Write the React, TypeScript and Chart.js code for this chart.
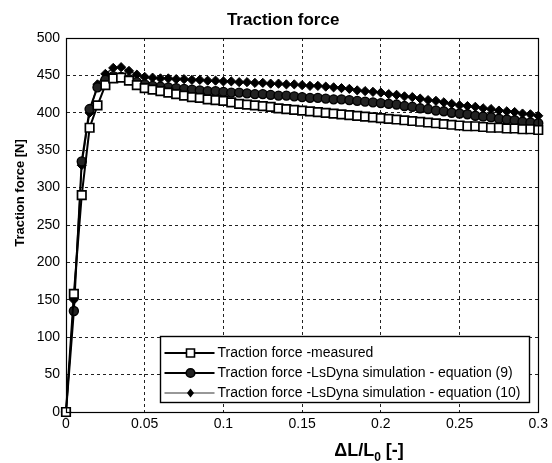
import React, { useEffect, useRef } from 'react';
import { Chart, registerables } from 'chart.js';

Chart.register(...registerables);

const xValues = [
  0, 0.005, 0.01, 0.015, 0.02, 0.025, 0.03, 0.035, 0.04, 0.045, 0.05,
  0.055, 0.06, 0.065, 0.07, 0.075, 0.08, 0.085, 0.09, 0.095, 0.1,
  0.105, 0.11, 0.115, 0.12, 0.125, 0.13, 0.135, 0.14, 0.145, 0.15,
  0.155, 0.16, 0.165, 0.17, 0.175, 0.18, 0.185, 0.19, 0.195, 0.2,
  0.205, 0.21, 0.215, 0.22, 0.225, 0.23, 0.235, 0.24, 0.245, 0.25,
  0.255, 0.26, 0.265, 0.27, 0.275, 0.28, 0.285, 0.29, 0.295, 0.3,
];

const measured = [
  0, 158, 290, 380, 410, 437, 446, 447, 443, 437, 433,
  431, 429, 427, 425, 423, 421, 420, 418, 417, 416,
  414, 412, 411, 410, 409, 408, 406, 405, 404, 403,
  402, 401, 400, 399, 398, 397, 396, 395, 394, 393,
  392, 391, 390, 389, 388, 387, 386, 385, 384, 383,
  382, 382, 381, 380, 380, 379, 379, 378, 378, 377,
];

const eq9 = [
  0, 135, 335, 405, 434, 444, 449, 448, 445, 441, 438,
  436, 435, 434, 433, 432, 431, 430, 429, 429, 428,
  427, 427, 426, 425, 425, 424, 423, 423, 422, 421,
  420, 420, 419, 418, 418, 417, 416, 415, 414, 413,
  412, 411, 409, 408, 406, 405, 403, 402, 400, 399,
  398, 396, 395, 394, 392, 391, 390, 388, 387, 386,
];

const eq10 = [
  0, 150, 330, 400, 438, 452, 460, 461, 456, 451, 448,
  447, 446, 446, 445, 445, 444, 444, 443, 443, 442,
  442, 441, 441, 440, 440, 439, 439, 438, 438, 437,
  436, 436, 435, 434, 433, 432, 430, 429, 428, 427,
  425, 424, 422, 421, 419, 417, 416, 414, 412, 410,
  409, 408, 406, 405, 403, 402, 401, 399, 398, 396,
];

const xTickLabels = ['0', '0.05', '0.1', '0.15', '0.2', '0.25', '0.3'];
const yTickLabels = ['0', '50', '100', '150', '200', '250', '300', '350', '400', '450', '500'];

const seriesNames = [
  'Traction force -measured',
  'Traction force -LsDyna simulation - equation (9)',
  'Traction force -LsDyna simulation - equation (10)',
];

const chartTitle = 'Traction force';
const yTitle = 'Traction force [N]';
const xTitleMain = 'ΔL/L';
const xTitleSub = '0';
const xTitleTail = ' [-]';

const FONT = "'Liberation Sans', Arial, sans-serif";

function drawMarker(ctx: CanvasRenderingContext2D, style: string, x: number, y: number) {
  ctx.save();
  ctx.setLineDash([]);
  ctx.strokeStyle = '#000';
  ctx.lineWidth = 1.6;
  if (style === 'rect') {
    ctx.fillStyle = '#fff';
    ctx.beginPath();
    ctx.rect(x - 4, y - 4, 8, 8);
    ctx.fill();
    ctx.stroke();
  } else if (style === 'circle') {
    ctx.fillStyle = '#222';
    ctx.beginPath();
    ctx.arc(x, y, 4.3, 0, Math.PI * 2);
    ctx.fill();
    ctx.stroke();
  } else {
    ctx.fillStyle = '#000';
    ctx.beginPath();
    ctx.moveTo(x, y - 4.5);
    ctx.lineTo(x + 3.5, y);
    ctx.lineTo(x, y + 4.5);
    ctx.lineTo(x - 3.5, y);
    ctx.closePath();
    ctx.fill();
  }
  ctx.restore();
}

const decorPlugin = {
  id: 'decor',
  afterDatasetsDraw(chart: any) {
    const { ctx, chartArea: a } = chart;
    ctx.save();
    // axes box
    ctx.setLineDash([]);
    ctx.strokeStyle = '#000';
    ctx.lineWidth = 1.2;
    ctx.strokeRect(Math.round(a.left) + 0.5, Math.round(a.top) + 0.5,
      Math.round(a.right - a.left), Math.round(a.bottom - a.top));

    // legend
    const lw = 369, lh = 66;
    const lx = Math.round(a.right - 9 - lw) + 0.5;
    const ly = Math.round(a.bottom - 10 - lh) + 0.5;
    ctx.fillStyle = '#fff';
    ctx.fillRect(lx, ly, lw, lh);
    ctx.strokeStyle = '#000';
    ctx.lineWidth = 1.4;
    ctx.strokeRect(lx, ly, lw, lh);
    const styles = ['rect', 'circle', 'rectRot'];
    ctx.font = `14px ${FONT}`;
    ctx.textBaseline = 'middle';
    ctx.textAlign = 'left';
    seriesNames.forEach((name, i) => {
      const ry = ly + 16.5 + i * 20;
      ctx.strokeStyle = i === 2 ? '#333' : '#000';
      ctx.lineWidth = i === 2 ? 1.2 : 1.8;
      ctx.beginPath();
      ctx.moveTo(lx + 4, ry);
      ctx.lineTo(lx + 54, ry);
      ctx.stroke();
      drawMarker(ctx, styles[i], lx + 30, ry);
      ctx.fillStyle = '#000';
      ctx.fillText(name, lx + 57, ry);
    });

    // chart title
    const cx = (a.left + a.right) / 2;
    ctx.fillStyle = '#000';
    ctx.font = `bold 17px ${FONT}`;
    ctx.textAlign = 'center';
    ctx.textBaseline = 'middle';
    ctx.fillText(chartTitle, cx - 19, 20);

    // y title
    ctx.save();
    ctx.translate(20, 193);
    ctx.rotate(-Math.PI / 2);
    ctx.font = `bold 13px ${FONT}`;
    ctx.fillText(yTitle, 0, 0);
    ctx.restore();

    // x title with subscript
    ctx.textAlign = 'left';
    ctx.textBaseline = 'alphabetic';
    ctx.font = `bold 18px ${FONT}`;
    const w1 = ctx.measureText(xTitleMain).width;
    ctx.font = `bold 12px ${FONT}`;
    const w2 = ctx.measureText(xTitleSub).width;
    ctx.font = `bold 18px ${FONT}`;
    const w3 = ctx.measureText(xTitleTail).width;
    const total = w1 + w2 + w3;
    let tx = 369 - total / 2;
    const base = 456;
    ctx.fillText(xTitleMain, tx, base);
    tx += w1;
    ctx.font = `bold 12px ${FONT}`;
    ctx.fillText(xTitleSub, tx, base + 5);
    tx += w2;
    ctx.font = `bold 18px ${FONT}`;
    ctx.fillText(xTitleTail, tx, base);
    ctx.restore();
  },
};

export default function App() {
  const ref = useRef<HTMLCanvasElement | null>(null);

  useEffect(() => {
    if (!ref.current) return;
    const mk = (arr: number[]) => xValues.map((x, i) => ({ x, y: arr[i] }));
    const chart = new Chart(ref.current, {
      type: 'line',
      data: {
        datasets: [
          {
            label: seriesNames[0],
            data: mk(measured),
            borderColor: '#000',
            borderWidth: 2,
            pointStyle: 'rect',
            pointRadius: 6,
            pointBackgroundColor: '#fff',
            pointBorderColor: '#000',
            pointBorderWidth: 1.7,
            clip: false as any,
          },
          {
            label: seriesNames[1],
            data: mk(eq9),
            borderColor: '#000',
            borderWidth: 2,
            pointStyle: 'circle',
            pointRadius: 4.5,
            pointBackgroundColor: '#222',
            pointBorderColor: '#000',
            pointBorderWidth: 1.4,
            clip: false as any,
          },
          {
            label: seriesNames[2],
            data: mk(eq10),
            borderColor: '#222',
            borderWidth: 1.4,
            pointStyle: 'rectRot',
            pointRadius: 4.6,
            pointBackgroundColor: '#000',
            pointBorderColor: '#000',
            pointBorderWidth: 1,
            clip: false as any,
          },
        ],
      },
      options: {
        animation: false,
        responsive: false,
        layout: { padding: { top: 38, right: 12, bottom: 0, left: 0 } },
        plugins: {
          legend: { display: false },
          title: { display: false },
          tooltip: { enabled: false },
        },
        scales: {
          x: {
            type: 'linear',
            min: 0,
            max: 0.3,
            afterFit: (s: any) => { s.height = 51; },
            ticks: {
              stepSize: 0.05,
              padding: 4,
              color: '#000',
              font: { family: FONT, size: 14 },
              maxRotation: 0,
              callback: (_v: any, i: number) => xTickLabels[i],
            },
            grid: {
              color: '#222',
              lineWidth: 1,
              drawTicks: false,
            },
            border: { display: true, color: '#000', dash: [3, 3] },
          },
          y: {
            min: 0,
            max: 500,
            afterFit: (s: any) => { s.width = 66; },
            ticks: {
              stepSize: 50,
              padding: 6,
              color: '#000',
              font: { family: FONT, size: 14 },
              callback: (_v: any, i: number) => yTickLabels[i],
            },
            grid: {
              color: '#222',
              lineWidth: 1,
              drawTicks: false,
            },
            border: { display: true, color: '#000', dash: [3, 3] },
          },
        },
      },
      plugins: [decorPlugin],
    } as any);
    return () => chart.destroy();
  }, []);

  return (
    <div style={{ position: 'fixed', left: 0, top: 0, width: 552, height: 463, background: '#fff' }}>
      <canvas ref={ref} width={552} height={463} style={{ width: 552, height: 463, display: 'block' }} />
    </div>
  );
}
